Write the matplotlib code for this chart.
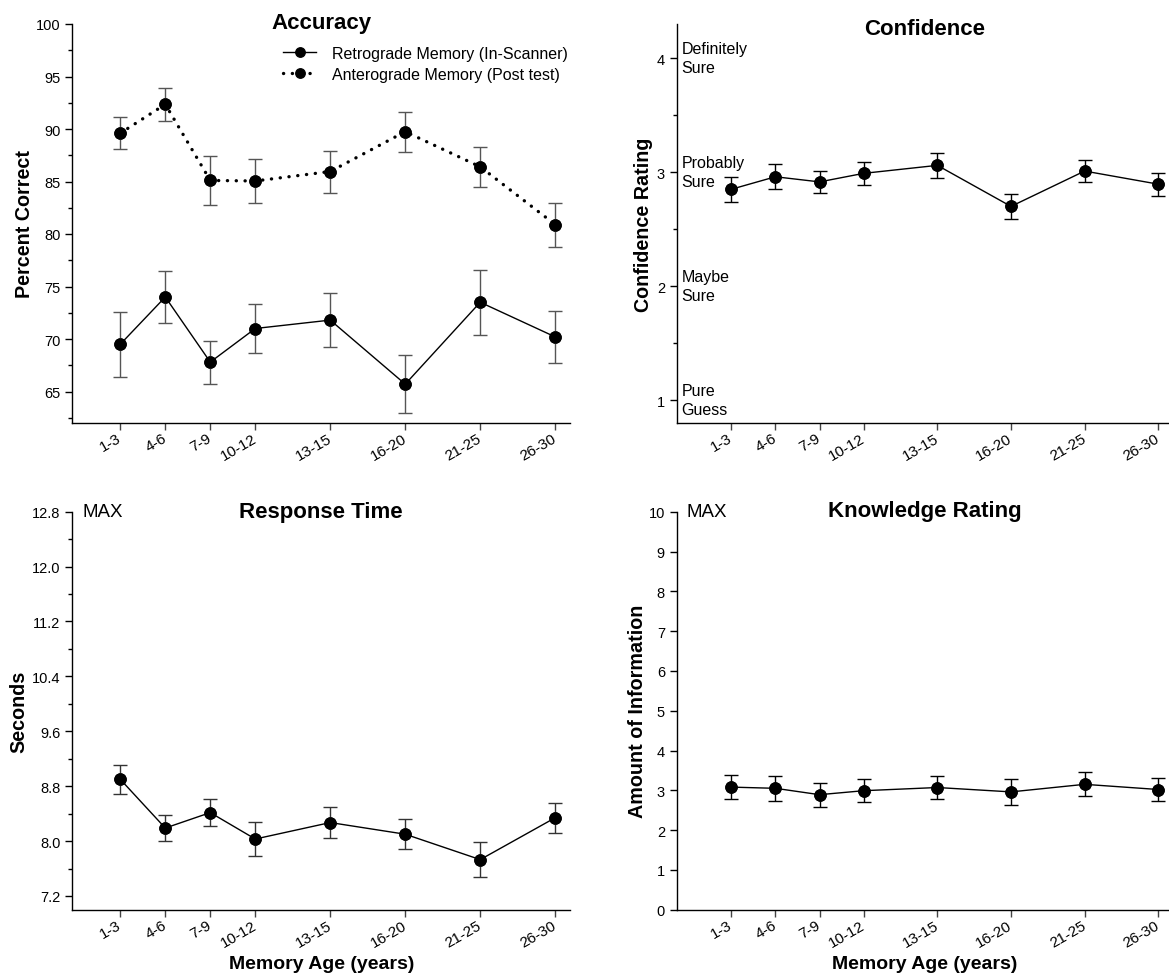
import numpy as np
import matplotlib
matplotlib.use("Agg")
import matplotlib.pyplot as plt
from matplotlib.ticker import MultipleLocator
import matplotlib.transforms as mtransforms

plt.rcParams['font.family'] = ['Liberation Sans', 'DejaVu Sans']

# ── Data ───────────────────────────────────────────────────────────────────────
age_labels = ["1-3", "4-6", "7-9", "10-12", "13-15", "16-20", "21-25", "26-30"]
age_pos    = [1, 4, 7, 10, 15, 20, 25, 30]

retro_acc     = [69.5, 74.0, 67.8, 71.0, 71.8, 65.7, 73.5, 70.2]
retro_acc_err = [3.1, 2.45, 2.05, 2.35, 2.55, 2.75, 3.1, 2.5]
antero_acc     = [89.6, 92.35, 85.1, 85.05, 85.95, 89.75, 86.4, 80.9]
antero_acc_err = [1.5, 1.55, 2.3, 2.1, 2.0, 1.9, 1.9, 2.1]

conf     = [2.85, 2.96, 2.915, 2.99, 3.06, 2.70, 3.01, 2.895]
conf_err = [0.108, 0.11, 0.095, 0.10, 0.11, 0.11, 0.10, 0.10]
conf_labels = {4: "Definitely\nSure", 3: "Probably\nSure", 2: "Maybe\nSure", 1: "Pure\nGuess"}

rt     = [8.90, 8.19, 8.415, 8.03, 8.27, 8.10, 7.73, 8.34]
rt_err = [0.21, 0.19, 0.20, 0.25, 0.22, 0.22, 0.25, 0.22]

know     = [3.08, 3.05, 2.89, 2.99, 3.07, 2.96, 3.15, 3.02]
know_err = [0.30, 0.31, 0.30, 0.29, 0.30, 0.32, 0.30, 0.29]

# ── Layout (figure fractions) ─────────────────────────────────────────────────
W, H = 1169, 979
fig = plt.figure(figsize=(W / 100, H / 100), dpi=100)

def px_axes(x0, y0, x1, y1):
    return fig.add_axes([x0 / W, 1 - y1 / H, (x1 - x0) / W, (y1 - y0) / H])

ax_acc  = px_axes(72.3, 25, 570.2, 424)
ax_conf = px_axes(676.7, 25, 1173, 424)
ax_rt   = px_axes(72.3, 512.7, 570.2, 910.7)
ax_kn   = px_axes(676.7, 512.7, 1173, 910.7)


def style(ax, xmin, xmax):
    for s in ("top", "right"):
        ax.spines[s].set_visible(False)
    for s in ("left", "bottom"):
        ax.spines[s].set_linewidth(1.0)
    ax.set_xlim(xmin, xmax)
    ax.set_xticks(age_pos)
    ax.set_xticklabels(age_labels, rotation=30, ha="right", va="center",
                       rotation_mode="anchor", fontsize=11)
    ax.tick_params(axis="x", length=5, width=1, color="#444", pad=5)
    ax.tick_params(axis="y", which="major", length=5, width=1, labelsize=10.5)
    ax.tick_params(axis="y", which="minor", length=3, width=1)


def series(ax, y, err, ls="-", lw=1.0, ecolor="black", label=None, dashes=None):
    ax.errorbar(age_pos, y, yerr=err, fmt="o", color="black", ms=8,
                ecolor=ecolor, elinewidth=1.0, capsize=5, capthick=1.0, zorder=3)
    ln, = ax.plot(age_pos, y, color="black", lw=lw, ls=ls, marker="o", ms=8,
                  label=label, zorder=2)
    if dashes is not None:
        ln.set_dashes(dashes)
        ln.set_dash_capstyle("round")
    return ln


def ylab(ax, text, xc):
    ax.set_ylabel(text, fontsize=14.2, fontweight="bold", va="center")
    ax.yaxis.set_label_coords(xc, 0.5)


def xlab(ax, text):
    ax.set_xlabel(text, fontsize=14, fontweight="bold", va="center")
    ax.xaxis.set_label_coords(0.5, -54 / 398)


def title(ax, text, y):
    ax.text(0.5, y, text, transform=ax.transAxes, ha="center", va="baseline",
            fontsize=16, fontweight="bold")


# ── Accuracy ──────────────────────────────────────────────────────────────────
style(ax_acc, -2.2, 31)
ax_acc.set_ylim(62, 100)
ax_acc.set_yticks([65, 70, 75, 80, 85, 90, 95, 100])
ax_acc.yaxis.set_minor_locator(MultipleLocator(2.5))
l1 = series(ax_acc, retro_acc, retro_acc_err, ecolor="#555555",
            label="Retrograde Memory (In-Scanner)")
l2 = series(ax_acc, antero_acc, antero_acc_err, lw=2.4, ecolor="#555555",
            label="Anterograde Memory (Post test)", dashes=(0.05, 2.6))
ax_acc.legend(handles=[l1, l2], loc="upper left",
              bbox_to_anchor=(0.423, 0.945), frameon=False, fontsize=11.5,
              handlelength=2.1, handletextpad=1.0, labelspacing=0.35,
              borderpad=0, borderaxespad=0, numpoints=1, markerscale=0.85)
ylab(ax_acc, "Percent Correct", -0.0966)
title(ax_acc, "Accuracy", 0.99)

# ── Confidence ────────────────────────────────────────────────────────────────
style(ax_conf, -2.7, 31)
ax_conf.set_ylim(0.8, 4.3)
ax_conf.set_yticks([1, 2, 3, 4])
ax_conf.yaxis.set_minor_locator(MultipleLocator(0.5))
series(ax_conf, conf, conf_err)
trans = mtransforms.blended_transform_factory(ax_conf.transAxes, ax_conf.transData)
for val, txt in conf_labels.items():
    ax_conf.text(0.01, val, txt, transform=trans, ha="left", va="center",
                 fontsize=11.5, linespacing=1.35)
ylab(ax_conf, "Confidence Rating", -0.0673)
title(ax_conf, "Confidence", 0.975)

# ── Response time ─────────────────────────────────────────────────────────────
style(ax_rt, -2.2, 31)
rt_ticks = np.arange(7.2, 12.81, 0.8)
ax_rt.set_ylim(7.0, 12.8)
ax_rt.set_yticks(rt_ticks)
ax_rt.set_yticklabels([f"{v:.1f}" for v in rt_ticks])
ax_rt.yaxis.set_minor_locator(MultipleLocator(0.4))
series(ax_rt, rt, rt_err, ecolor="#333333")
trans = mtransforms.blended_transform_factory(ax_rt.transAxes, ax_rt.transData)
ax_rt.text(0.0195, 12.8, "MAX", transform=trans, ha="left", va="center", fontsize=13.5)
ylab(ax_rt, "Seconds", -0.108)
xlab(ax_rt, "Memory Age (years)")
title(ax_rt, "Response Time", 0.986)

# ── Knowledge rating ──────────────────────────────────────────────────────────
style(ax_kn, -2.7, 31)
ax_kn.set_ylim(0, 10)
ax_kn.set_yticks(range(0, 11))
series(ax_kn, know, know_err)
trans = mtransforms.blended_transform_factory(ax_kn.transAxes, ax_kn.transData)
ax_kn.text(0.0195, 10, "MAX", transform=trans, ha="left", va="center", fontsize=13.5)
ylab(ax_kn, "Amount of Information", -0.0784)
xlab(ax_kn, "Memory Age (years)")
title(ax_kn, "Knowledge Rating", 0.99)

fig.savefig("out.png", dpi=100)
